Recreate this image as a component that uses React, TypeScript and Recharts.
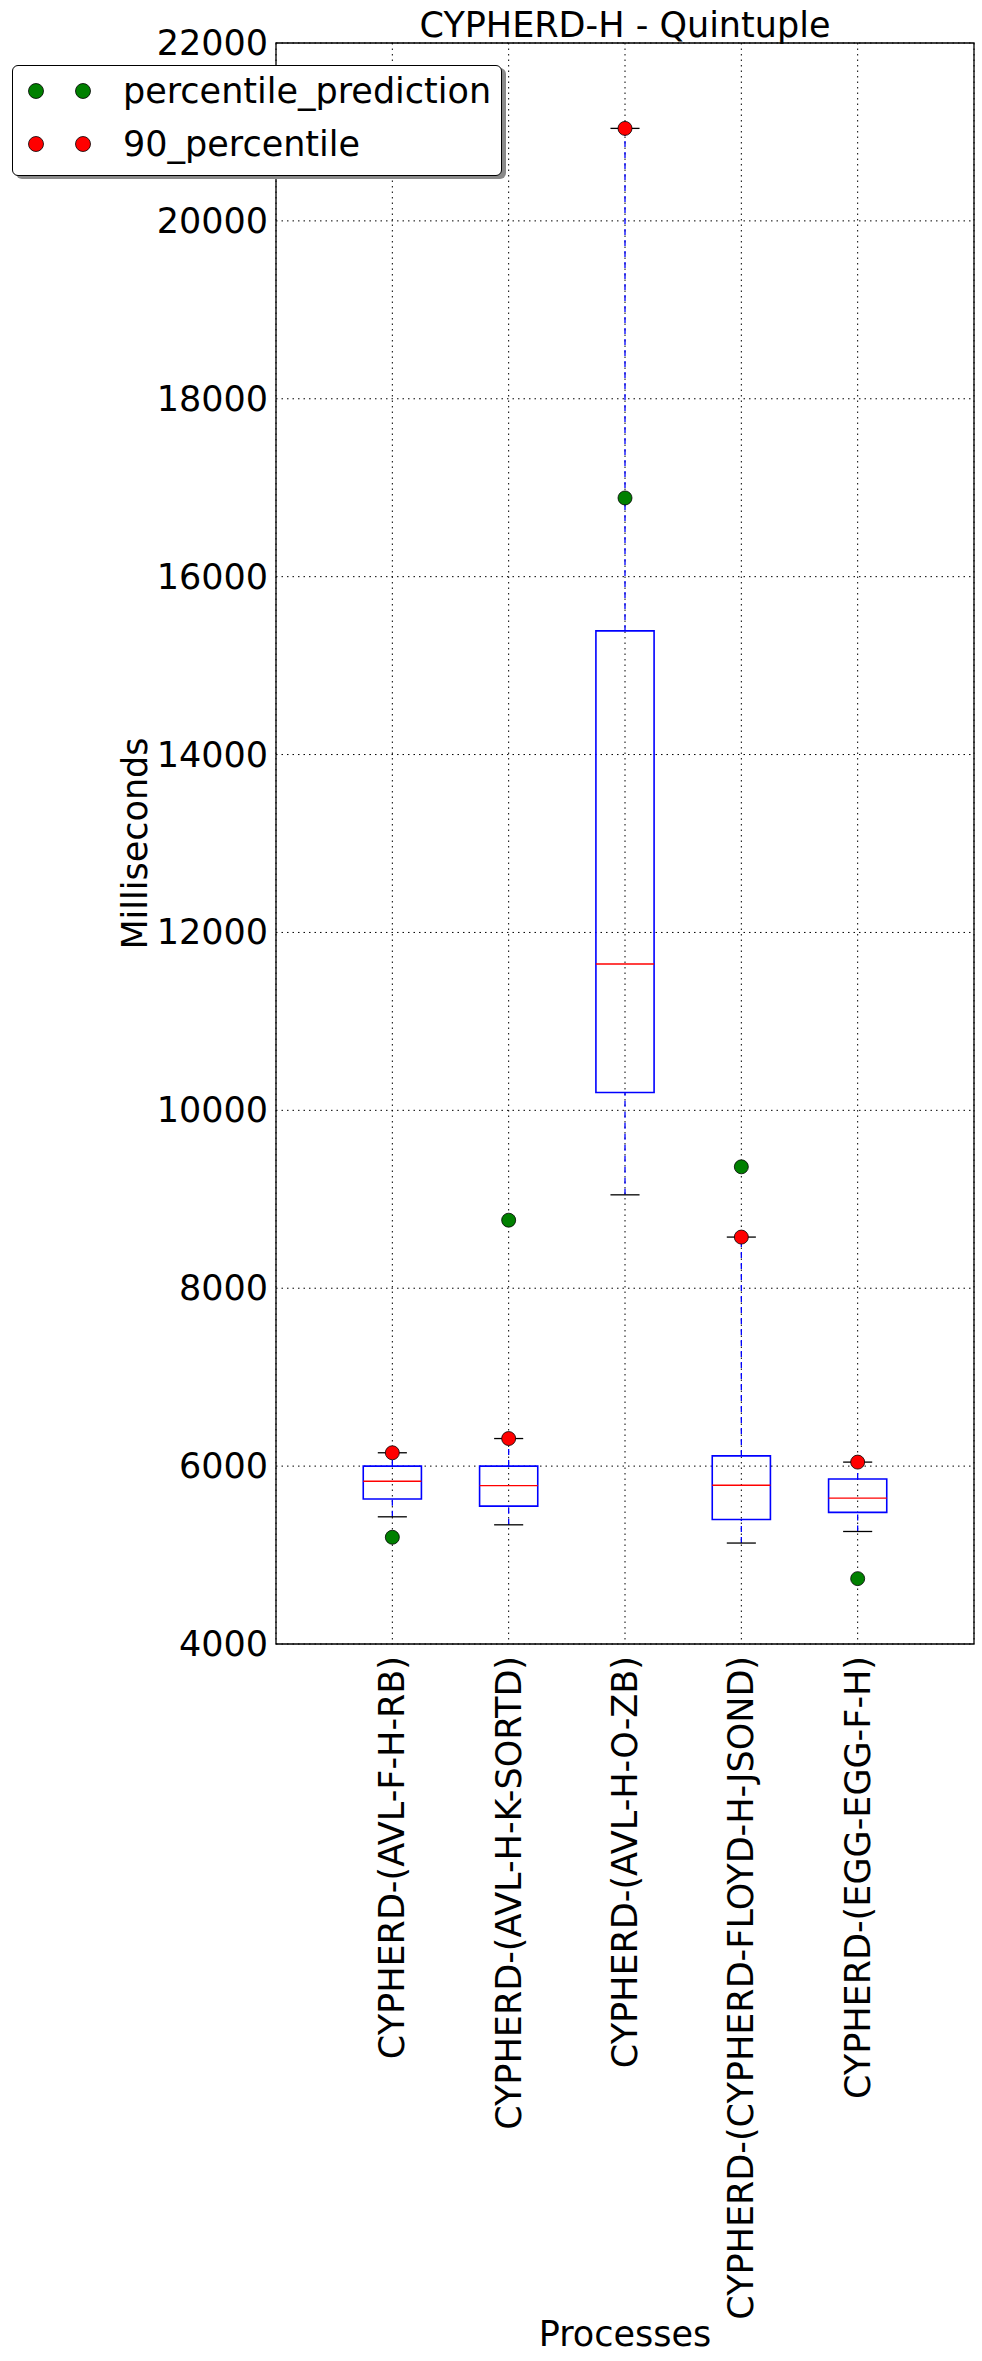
import React from "react";
import {
  ScatterChart, Scatter, XAxis, YAxis, CartesianGrid, ReferenceArea, ReferenceLine, Legend,
} from "recharts";

const PROCESSES = [
  "CYPHERD-(AVL-F-H-RB)",
  "CYPHERD-(AVL-H-K-SORTD)",
  "CYPHERD-(AVL-H-O-ZB)",
  "CYPHERD-(CYPHERD-FLOYD-H-JSOND)",
  "CYPHERD-(EGG-EGG-F-H)",
];
const POSITIONS = [1, 2, 3, 4, 5];

// box statistics (ms)
const WHISKER_LOW = [5430, 5340, 9050, 5135, 5265];
const Q1 = [5630, 5550, 10200, 5400, 5480];
const MEDIAN = [5830, 5780, 11645, 5785, 5640];
const Q3 = [6000, 6000, 15390, 6115, 5855];
const WHISKER_HIGH = [6150, 6310, 21040, 8575, 6045];

// markers
const PREDICTION = [5200, 8765, 16885, 9365, 4735];
const P90 = [6150, 6310, 21040, 8575, 6045];

const Y_TICKS = [4000, 6000, 8000, 10000, 12000, 14000, 16000, 18000, 20000, 22000];
const SERIES_ORDER = ["percentile_prediction", "90_percentile"];

const FONT = "'DejaVu Sans', sans-serif";
const BLUE = "#0000ff";
const RED = "#ff0000";
const GREEN = "#008000";
const BOX_HALF = 0.25;
const CAP_HALF = 0.125;

const predictionPts = POSITIONS.map((x, i) => ({ x, y: PREDICTION[i] }));
const p90Pts = POSITIONS.map((x, i) => ({ x, y: P90[i] }));

function YTick({ x, y, payload }: any) {
  return (
    <text x={x - 8} y={y} textAnchor="end" dominantBaseline="central" fontSize={35} fontFamily={FONT} fill="#000">
      {payload.value}
    </text>
  );
}

function XTick({ x, y, payload }: any) {
  const idx = POSITIONS.indexOf(payload.value);
  return (
    <text
      transform={`translate(${x}, ${y + 12}) rotate(-90)`}
      textAnchor="end" dominantBaseline="central"
      fontSize={35} fontFamily={FONT} fill="#000"
    >
      {PROCESSES[idx]}
    </text>
  );
}

function LegendBox({ payload }: any) {
  const items = (payload ?? [])
    .map((p: any) => ({ name: p.value, color: p.color }))
    .sort((a: any, b: any) => SERIES_ORDER.indexOf(a.name) - SERIES_ORDER.indexOf(b.name));
  return (
    <div style={{
      position: "relative", width: 488, height: 109, background: "#fff",
      border: "1.5px solid #000", borderRadius: 6, boxShadow: "4px 3px 0 #8a8a8a",
      fontFamily: FONT, fontSize: 35, color: "#000",
    }}>
      {items.map((it: any, i: number) => (
        <div key={it.name} style={{ position: "absolute", left: 0, top: 25 + i * 53 - 24, height: 48, display: "flex", alignItems: "center" }}>
          <svg width={110} height={48} style={{ display: "block" }}>
            <circle cx={23} cy={24} r={7.5} fill={it.color} stroke="#000" strokeWidth={0.8} />
            <circle cx={70} cy={24} r={7.5} fill={it.color} stroke="#000" strokeWidth={0.8} />
          </svg>
          <span style={{ lineHeight: "48px", whiteSpace: "nowrap" }}>{it.name}</span>
        </div>
      ))}
    </div>
  );
}

const greenDot = (p: any) => <circle cx={p.cx} cy={p.cy} r={7} fill={GREEN} stroke="#000" strokeWidth={0.8} />;
const redDot = (p: any) => <circle cx={p.cx} cy={p.cy} r={7} fill={RED} stroke="#000" strokeWidth={0.8} />;

export default function App() {
  return (
    <div style={{ position: "absolute", left: 0, top: 0, width: 982, height: 2361, background: "#fff", fontFamily: FONT }}>
      <ScatterChart width={982} height={2361} margin={{ top: 43, right: 8, bottom: 0, left: 0 }}>
        <CartesianGrid stroke="#000" strokeDasharray="1.5 4" />
        <XAxis
          type="number" dataKey="x" domain={[0, 6]} ticks={POSITIONS} interval={0}
          height={717} axisLine={false} tickLine={false} tickSize={0} tickMargin={0}
          tick={<XTick />} allowDataOverflow
          label={{
            content: ({ viewBox }: any) => (
              <text x={viewBox.x + viewBox.width / 2} y={viewBox.y + viewBox.height - 15}
                textAnchor="middle" fontSize={35} fontFamily={FONT} fill="#000">
                Processes
              </text>
            ),
          }}
        />
        <YAxis
          type="number" dataKey="y" domain={[4000, 22000]} ticks={Y_TICKS} interval={0}
          width={276} axisLine={false} tickLine={false} tickSize={0} tickMargin={0}
          tick={<YTick />} allowDataOverflow
          label={{
            content: ({ viewBox }: any) => (
              <text transform={`translate(${viewBox.x + viewBox.width / 2 - 3}, ${viewBox.y + viewBox.height / 2}) rotate(-90)`}
                textAnchor="middle" dominantBaseline="central" fontSize={35} fontFamily={FONT} fill="#000">
                Milliseconds
              </text>
            ),
          }}
        />

        {/* frame */}
        <ReferenceArea x1={0} x2={6} y1={4000} y2={22000} fill="none" stroke="#000" strokeWidth={1.3} />

        {POSITIONS.map((p, i) => (
          <ReferenceLine key={`wl${i}`} segment={[{ x: p, y: WHISKER_LOW[i] }, { x: p, y: Q1[i] }]}
            stroke={BLUE} strokeWidth={1.3} strokeDasharray="6 5" />
        ))}
        {POSITIONS.map((p, i) => (
          <ReferenceLine key={`wh${i}`} segment={[{ x: p, y: Q3[i] }, { x: p, y: WHISKER_HIGH[i] }]}
            stroke={BLUE} strokeWidth={1.3} strokeDasharray="6 5" />
        ))}
        {POSITIONS.map((p, i) => (
          <ReferenceLine key={`cl${i}`} segment={[{ x: p - CAP_HALF, y: WHISKER_LOW[i] }, { x: p + CAP_HALF, y: WHISKER_LOW[i] }]}
            stroke="#000" strokeWidth={1.3} />
        ))}
        {POSITIONS.map((p, i) => (
          <ReferenceLine key={`ch${i}`} segment={[{ x: p - CAP_HALF, y: WHISKER_HIGH[i] }, { x: p + CAP_HALF, y: WHISKER_HIGH[i] }]}
            stroke="#000" strokeWidth={1.3} />
        ))}
        {POSITIONS.map((p, i) => (
          <ReferenceArea key={`box${i}`} x1={p - BOX_HALF} x2={p + BOX_HALF} y1={Q1[i]} y2={Q3[i]}
            fill="none" stroke={BLUE} strokeWidth={1.6} />
        ))}
        {POSITIONS.map((p, i) => (
          <ReferenceLine key={`md${i}`} segment={[{ x: p - BOX_HALF, y: MEDIAN[i] }, { x: p + BOX_HALF, y: MEDIAN[i] }]}
            stroke={RED} strokeWidth={1.3} />
        ))}

        <Scatter name="percentile_prediction" data={predictionPts} fill={GREEN} shape={greenDot} isAnimationActive={false} />
        <Scatter name="90_percentile" data={p90Pts} fill={RED} shape={redDot} isAnimationActive={false} />

        <Legend
          layout="horizontal" verticalAlign="middle" align="center"
          wrapperStyle={{ left: 12, top: 65, width: 492, height: 113 }}
          content={<LegendBox />}
        />
      </ScatterChart>
      <svg width={982} height={60} style={{ position: "absolute", left: 0, top: 0, pointerEvents: "none" }}>
        <text x={625} y={37} textAnchor="middle" fontSize={35} fontFamily={FONT} fill="#000">CYPHERD-H - Quintuple</text>
      </svg>
    </div>
  );
}
